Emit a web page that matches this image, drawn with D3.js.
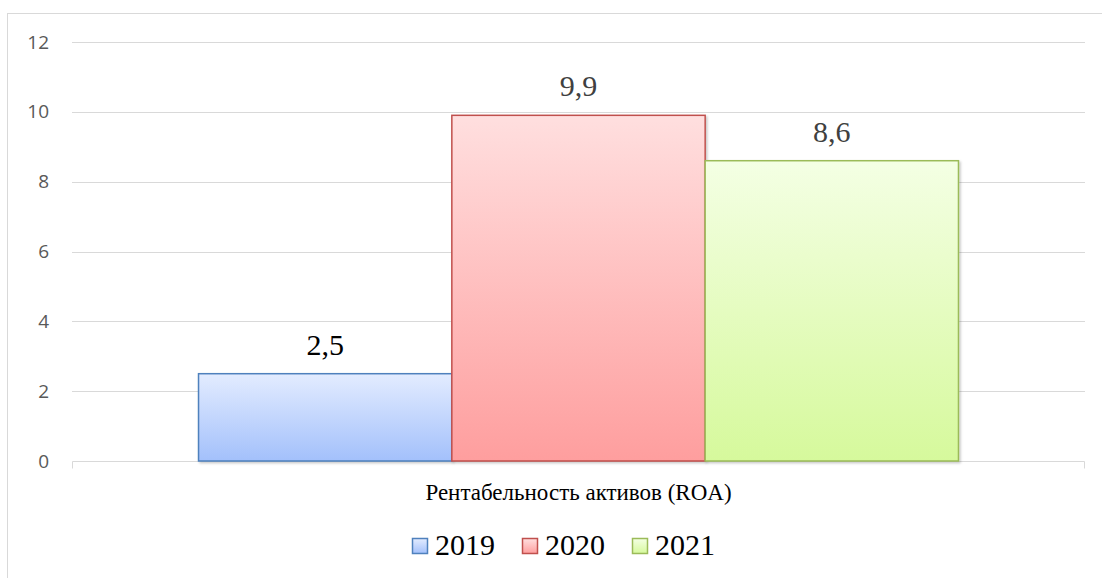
<!DOCTYPE html>
<html>
<head>
<meta charset="utf-8">
<script src="https://cdn.jsdelivr.net/npm/d3@7"></script>
<style>
  body { margin: 0; background: #fff; }
  svg { display: block; }
</style>
</head>
<body>
<script>
// data
const category = "Рентабельность активов (ROA)";
const years = ["2019", "2020", "2021"];
const values = [2.5, 9.9, 8.6];
const yTicks = [0, 2, 4, 6, 8, 10, 12];

const colors = {
  "2019": { top: "#e3ecff", bottom: "#a3c0fb", stroke: "#4f81bd", label: "#000000" },
  "2020": { top: "#ffdfdf", bottom: "#fe9e9e", stroke: "#c0504d", label: "#404040" },
  "2021": { top: "#f4ffe4", bottom: "#d6f99c", stroke: "#9bbb59", label: "#404040" }
};

const SERIF = '"Liberation Serif"';
const SANS = '"Open Sans"';

const W = 1102, H = 578;
const margin = { top: 42, right: 17, bottom: 117, left: 72 },
  width = W - margin.left - margin.right,
  height = H - margin.top - margin.bottom;

const root = d3.select("body").append("svg")
  .attr("width", W).attr("height", H);

// chart border
root.append("rect")
  .attr("x", 7.5).attr("y", 13.5)
  .attr("width", W + 10).attr("height", H + 10)
  .attr("fill", "none").attr("stroke", "#d9d9d9");

const defs = root.append("defs");
years.forEach(function (yr) {
  const g = defs.append("linearGradient")
    .attr("id", "grad" + yr)
    .attr("x1", 0).attr("y1", 0).attr("x2", 0).attr("y2", 1);
  g.append("stop").attr("offset", "0%").attr("stop-color", colors[yr].top);
  g.append("stop").attr("offset", "100%").attr("stop-color", colors[yr].bottom);
});
const shadow = defs.append("filter").attr("id", "shadow")
  .attr("x", "-5%").attr("y", "-5%").attr("width", "110%").attr("height", "110%");
shadow.append("feDropShadow")
  .attr("dx", 1.5).attr("dy", 1.5).attr("stdDeviation", 1.2)
  .attr("flood-color", "#000").attr("flood-opacity", 0.22);

const svg = root.append("g")
  .attr("transform", `translate(${margin.left},${margin.top})`);

const y = d3.scaleLinear().domain([0, 12]).range([height, 0]);
const x0 = d3.scaleBand().domain([category]).range([0, width]).paddingInner(0).paddingOuter(0.1665);
const x1 = d3.scaleBand().domain(years).range([0, x0.bandwidth()]).padding(0);

// gridlines
svg.append("g")
  .selectAll("line")
  .data(yTicks.filter(d => d > 0))
  .join("line")
  .attr("x1", 0).attr("x2", width)
  .attr("y1", d => Math.round(y(d)) + 0.5).attr("y2", d => Math.round(y(d)) + 0.5)
  .attr("stroke", "#d9d9d9").attr("stroke-width", 1);

// y axis labels
const yAxis = d3.axisLeft(y).tickValues(yTicks).tickSize(0).tickPadding(23);
const yg = svg.append("g").call(yAxis);
yg.select(".domain").remove();
yg.selectAll("text")
  .style("font-family", SANS)
  .style("font-size", "19px")
  .attr("fill", "#595959");

// x axis
const xAxis = d3.axisBottom(d3.scaleLinear().domain([0, 1]).range([0, width]))
  .tickValues([0, 1]).tickSize(7).tickFormat("");
const xg = svg.append("g")
  .attr("transform", `translate(0.5, ${Math.round(height) + 0.5})`)
  .call(xAxis);
xg.select(".domain").attr("stroke", "#d9d9d9").attr("d", `M0,0H${width - 1}`);
xg.selectAll(".tick line").attr("stroke", "#d9d9d9");
xg.selectAll(".tick").attr("transform", (d, i) => `translate(${i === 0 ? 0 : width - 1},0)`);

// bars
const group = svg.append("g")
  .attr("transform", `translate(${x0(category)},0)`);

const data = years.map((yr, i) => ({ year: yr, value: values[i] }));

group.selectAll("rect")
  .data(data)
  .join("rect")
  .attr("x", d => x1(d.year))
  .attr("y", d => y(d.value))
  .attr("width", x1.bandwidth())
  .attr("height", d => height - y(d.value))
  .attr("fill", d => `url(#grad${d.year})`)
  .attr("stroke", d => colors[d.year].stroke)
  .attr("stroke-width", 1.5)
  .attr("filter", "url(#shadow)");

// value labels
group.selectAll("text.val")
  .data(data)
  .join("text")
  .attr("class", "val")
  .attr("x", d => x1(d.year) + x1.bandwidth() / 2)
  .attr("y", d => y(d.value) - 19)
  .attr("text-anchor", "middle")
  .style("font-family", SERIF)
  .style("font-size", "30px")
  .attr("fill", d => colors[d.year].label)
  .text(d => d3.format(".1f")(d.value).replace(".", ","));

// category label
svg.append("text")
  .attr("x", x0(category) + x0.bandwidth() / 2)
  .attr("y", height + 39)
  .attr("text-anchor", "middle")
  .style("font-family", SERIF)
  .style("font-size", "23px")
  .attr("fill", "#000")
  .text(category);

// legend
const legend = root.append("g");
const itemStep = 110;
const legendX = 412, legendY = 546;
years.forEach(function (yr, i) {
  const gItem = legend.append("g")
    .attr("transform", `translate(${legendX + itemStep * i},${legendY})`);
  gItem.append("rect")
    .attr("x", 0.5).attr("y", -7.5)
    .attr("width", 15).attr("height", 15)
    .attr("fill", `url(#grad${yr})`)
    .attr("stroke", colors[yr].stroke)
    .attr("stroke-width", 1.5);
  gItem.append("text")
    .attr("x", 23).attr("y", 9)
    .style("font-family", SERIF)
    .style("font-size", "30px")
    .attr("fill", "#000")
    .text(yr);
});
</script>
</body>
</html>
